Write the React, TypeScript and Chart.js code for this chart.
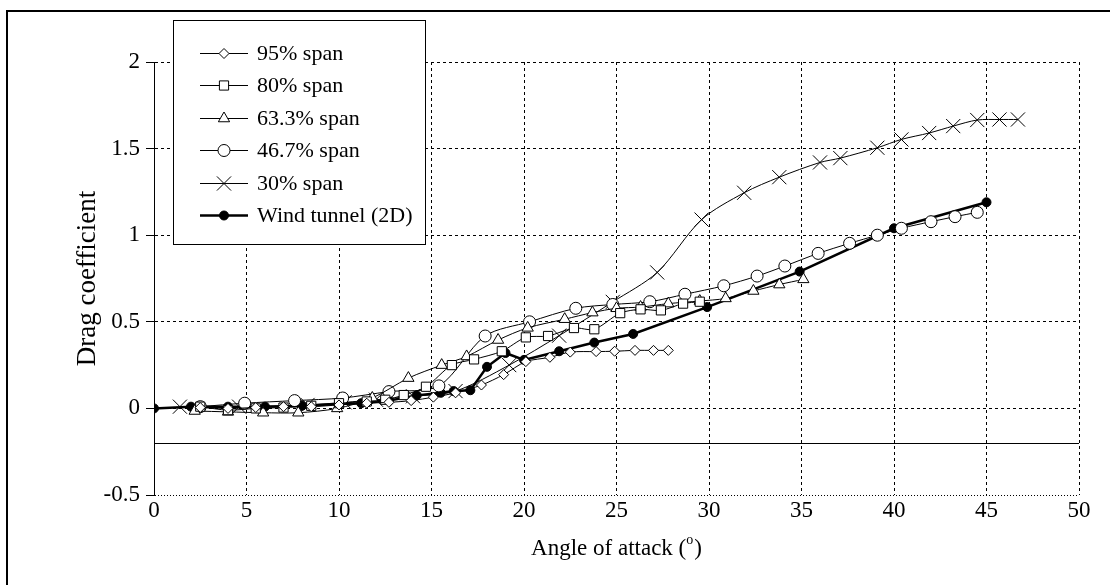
import React, { useEffect, useRef } from 'react';
import { Chart, registerables } from 'chart.js';
import { drawPoint } from 'chart.js/helpers';

Chart.register(...registerables);

// ---- data ----
const span95X = [2.5, 4, 5.5, 7, 8.5, 10, 11.5, 12.7, 13.9, 15.1, 16.3, 17.7, 18.9, 20.1, 21.4, 22.5, 23.9, 24.9, 26, 27, 27.8];
const span95Y = [0.005, 0.0, 0.005, 0.01, 0.01, 0.02, 0.03, 0.035, 0.045, 0.065, 0.09, 0.135, 0.195, 0.27, 0.295, 0.325, 0.328, 0.33, 0.335, 0.335, 0.335];

const span80X = [2.5, 4, 5.5, 7, 8.5, 10, 11.5, 12.5, 13.5, 14.7, 16.1, 17.3, 18.8, 20.1, 21.3, 22.7, 23.8, 25.2, 26.3, 27.4, 28.6, 29.5];
const span80Y = [0.01, -0.01, 0.0, 0.005, 0.015, 0.03, 0.04, 0.05, 0.077, 0.125, 0.25, 0.283, 0.33, 0.41, 0.418, 0.464, 0.457, 0.55, 0.572, 0.566, 0.605, 0.616];

const span63X = [2.2, 4, 5.9, 7.8, 9.9, 11.8, 13.75, 15.55, 16.9, 18.6, 20.2, 22.2, 23.7, 25, 26.3, 27.8, 29.5, 30.9, 32.4, 33.8, 35.1];
const span63Y = [-0.015, -0.02, -0.025, -0.025, 0.0, 0.06, 0.175, 0.25, 0.3, 0.395, 0.465, 0.515, 0.553, 0.578, 0.585, 0.605, 0.62, 0.635, 0.678, 0.715, 0.745];

const span47X = [2.5, 4.9, 7.6, 10.2, 12.7, 15.4, 17.9, 20.3, 22.8, 24.8, 26.8, 28.7, 30.8, 32.6, 34.1, 35.9, 37.6, 39.1, 40.4, 42, 43.3, 44.5];
const span47Y = [0.01, 0.03, 0.045, 0.06, 0.097, 0.13, 0.418, 0.5, 0.578, 0.6, 0.616, 0.659, 0.708, 0.764, 0.822, 0.895, 0.953, 1.0, 1.04, 1.078, 1.107, 1.132];

const span30X = [1.4, 4.6, 8.3, 10.3, 12.0, 14.0, 16.3, 19.2, 21.9, 24.8, 27.2, 29.6, 31.9, 33.8, 36, 37.1, 39.1, 40.4, 41.9, 43.2, 44.5, 45.7, 46.7];
const span30Y = [0.01, 0.01, 0.02, 0.035, 0.05, 0.07, 0.1, 0.25, 0.42, 0.615, 0.785, 1.09, 1.245, 1.335, 1.42, 1.445, 1.505, 1.553, 1.59, 1.63, 1.665, 1.668, 1.668];

const tunnelX = [0, 2, 4, 6, 8, 10, 11.2, 12.7, 14.2, 15.5, 16.2, 17.1, 18, 19, 20, 21.9, 23.8, 25.9, 29.9, 34.9, 40, 45];
const tunnelY = [0, 0.01, 0.01, 0.01, 0.015, 0.025, 0.03, 0.045, 0.075, 0.09, 0.1, 0.105, 0.24, 0.32, 0.28, 0.33, 0.38, 0.43, 0.585, 0.79, 1.04, 1.19];

const seriesLabels = ['95% span', '80% span', '63.3% span', '46.7% span', '30% span', 'Wind tunnel (2D)'];
const xMin = 0, xMax = 50, xStep = 5;
const yMin = -0.5, yMax = 2, yStep = 0.5;
const xAxisCross = -0.2;
const xTitleMain = 'Angle of attack (';
const xTitleSup = 'o';
const xTitleEnd = ')';
const yTitle = 'Drag coefficient';

const FONT = '"Liberation Serif", "Times New Roman", serif';

const pts = (xs: number[], ys: number[]) => xs.map((x, i) => ({ x, y: ys[i] }));

const legendPlugin = {
  id: 'boxLegend',
  afterDraw(chart: any) {
    const ctx = chart.ctx;
    const x0 = 173, y0 = 20, w = 252, h = 224;
    ctx.save();
    ctx.setLineDash([]);
    ctx.fillStyle = '#fff';
    ctx.fillRect(x0, y0, w, h);
    ctx.strokeStyle = '#000';
    ctx.lineWidth = 1;
    ctx.strokeRect(x0 + 0.5, y0 + 0.5, w, h);
    chart.data.datasets.forEach((ds: any, i: number) => {
      const cy = Math.round(53 + i * 32.4) + 0.5;
      ctx.beginPath();
      ctx.strokeStyle = '#000';
      ctx.lineWidth = ds.borderWidth;
      ctx.moveTo(200, cy);
      ctx.lineTo(248, cy);
      ctx.stroke();
      ctx.fillStyle = ds.pointBackgroundColor;
      ctx.strokeStyle = '#000';
      ctx.lineWidth = ds.pointBorderWidth;
      drawPoint(ctx, { pointStyle: ds.pointStyle, radius: ds.pointRadius, borderWidth: ds.pointBorderWidth, rotation: 0 }, 224, cy);
      ctx.fillStyle = '#000';
      ctx.font = `22px ${FONT}`;
      ctx.textBaseline = 'middle';
      ctx.textAlign = 'left';
      ctx.fillText(ds.label, 257, cy + 1);
    });
    ctx.restore();
  },
};

const axisPlugin = {
  id: 'axisExtras',
  beforeDatasetsDraw(chart: any) {
    const ctx = chart.ctx;
    const xs = chart.scales.x;
    const ys = chart.scales.y;
    const yp = Math.round(ys.getPixelForValue(xAxisCross)) + 0.5;
    ctx.save();
    ctx.strokeStyle = '#000';
    ctx.lineWidth = 1;
    ctx.setLineDash([]);
    ctx.beginPath();
    ctx.moveTo(xs.getPixelForValue(xMin), yp);
    ctx.lineTo(xs.getPixelForValue(xMax), yp);
    ctx.stroke();
    ctx.restore();
  },
  afterDraw(chart: any) {
    const ctx = chart.ctx;
    const { left, right } = chart.chartArea;
    ctx.save();
    ctx.fillStyle = '#000';
    ctx.textBaseline = 'alphabetic';
    ctx.textAlign = 'left';
    const big = `23px ${FONT}`;
    const small = `14px ${FONT}`;
    ctx.font = big;
    const wa = ctx.measureText(xTitleMain).width;
    const wc = ctx.measureText(xTitleEnd).width;
    ctx.font = small;
    const wb = ctx.measureText(xTitleSup).width;
    const total = wa + wb + wc + 1;
    let x = (left + right) / 2 - total / 2;
    const base = 555;
    ctx.font = big;
    ctx.fillText(xTitleMain, x, base);
    x += wa;
    ctx.font = small;
    ctx.fillText(xTitleSup, x, base - 11);
    x += wb + 1;
    ctx.font = big;
    ctx.fillText(xTitleEnd, x, base);
    ctx.restore();
  },
};

export default function App() {
  const ref = useRef<HTMLCanvasElement>(null);
  useEffect(() => {
    if (!ref.current) return;
    const mk = (label: string, xs: number[], ys: number[], style: string, radius: number, fill: string, bw: number, tension: number) => ({
      label,
      data: pts(xs, ys),
      showLine: true,
      borderColor: '#000',
      borderWidth: bw,
      tension,
      pointStyle: style,
      pointRadius: radius,
      pointBorderWidth: 1,
      pointBorderColor: '#000',
      pointBackgroundColor: fill,
      pointHoverRadius: radius,
    });
    const chart = new Chart(ref.current, {
      type: 'scatter',
      data: {
        datasets: [
          mk(seriesLabels[0], span95X, span95Y, 'rectRot', 5, '#fff', 1, 0.3),
          mk(seriesLabels[1], span80X, span80Y, 'rect', 6.5, '#fff', 1, 0.3),
          mk(seriesLabels[2], span63X, span63Y, 'triangle', 6.5, '#fff', 1, 0.3),
          mk(seriesLabels[3], span47X, span47Y, 'circle', 6, '#fff', 1, 0.3),
          mk(seriesLabels[4], span30X, span30Y, 'crossRot', 10, '#000', 1, 0.3),
          mk(seriesLabels[5], tunnelX, tunnelY, 'circle', 4.5, '#000', 2.5, 0),
        ],
      },
      options: {
        responsive: false,
        animation: false,
        devicePixelRatio: 1,
        layout: { padding: { top: 62, right: 31, bottom: 0, left: 0 } },
        plugins: { legend: { display: false }, tooltip: { enabled: false }, title: { display: false } },
        scales: {
          x: {
            type: 'linear',
            min: xMin,
            max: xMax,
            ticks: { stepSize: xStep, color: '#000', font: { family: FONT, size: 23 }, padding: 2, maxRotation: 0, callback: (v: any) => String(v) },
            grid: { color: '#000', lineWidth: 1, drawTicks: false },
            border: { display: false, dash: [3, 3] },
            afterFit: (s: any) => { s.height = 90; },
          },
          y: {
            type: 'linear',
            min: yMin,
            max: yMax,
            ticks: { stepSize: yStep, color: '#000', font: { family: FONT, size: 23 }, padding: 6, callback: (v: any) => String(v) },
            grid: { color: '#000', lineWidth: 1, drawTicks: true, tickLength: 8, tickColor: '#000', tickBorderDash: [] },
            border: { display: true, color: '#000', width: 1, dash: (c: any) => (c.tick && c.tick.value === yMin ? [1, 2] : [3, 3]) },
            title: { display: true, text: yTitle, color: '#000', font: { family: FONT, size: 27 }, padding: { top: 72, bottom: 0 } },
            afterFit: (s: any) => { s.width = 154; },
          },
        },
      },
      plugins: [axisPlugin, legendPlugin],
    } as any);
    return () => chart.destroy();
  }, []);

  return (
    <div style={{ position: 'fixed', left: 0, top: 0, width: 1110, height: 585, overflow: 'hidden', background: '#fff' }}>
      <div style={{ position: 'absolute', left: 6, top: 10, width: 1300, height: 800, border: '2px solid #000', boxSizing: 'border-box' }} />
      <canvas ref={ref} width={1110} height={585} style={{ position: 'absolute', left: 0, top: 0, width: 1110, height: 585 }} />
    </div>
  );
}
